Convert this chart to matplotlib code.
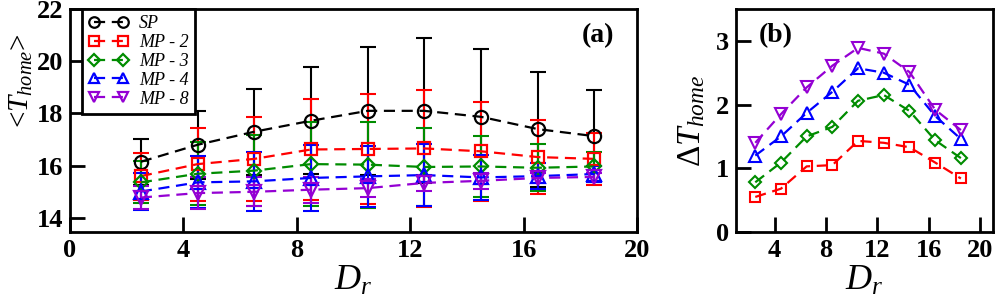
import matplotlib
matplotlib.use("Agg")
import matplotlib.pyplot as plt

plt.rcParams['font.family'] = ['Liberation Serif', 'DejaVu Serif']
plt.rcParams['mathtext.fontset'] = 'custom'
plt.rcParams['mathtext.rm'] = 'Liberation Serif'
plt.rcParams['mathtext.it'] = 'Liberation Serif:italic'
plt.rcParams['mathtext.bf'] = 'Liberation Serif:bold'

# ---------------- data ----------------
dr = [2.5, 4.5, 6.5, 8.5, 10.5, 12.5, 14.5, 16.5, 18.5]
labels = ['SP', 'MP - 2', 'MP - 3', 'MP - 4', 'MP - 8']

t_sp = [16.15, 16.8, 17.3, 17.72, 18.1, 18.1, 17.87, 17.4, 17.13]
e_sp = [0.88, 1.3, 1.65, 2.05, 2.45, 2.78, 2.58, 2.2, 1.77]
t_mp2 = [15.6, 16.06, 16.26, 16.62, 16.64, 16.66, 16.55, 16.33, 16.26]
e_mp2 = [0.9, 1.4, 1.6, 1.95, 2.12, 2.25, 1.9, 1.42, 1.0]
t_mp3 = [15.36, 15.69, 15.81, 16.06, 16.04, 15.95, 15.97, 15.92, 15.97]
e_mp3 = [0.8, 1.2, 1.35, 1.6, 1.65, 1.5, 1.18, 0.9, 0.55]
t_mp4 = [15.01, 15.36, 15.4, 15.53, 15.59, 15.64, 15.55, 15.6, 15.68]
e_mp4 = [0.7, 1.0, 1.13, 1.25, 1.18, 1.2, 0.85, 0.5, 0.3]
t_mp8 = [14.78, 14.95, 15.0, 15.08, 15.14, 15.34, 15.42, 15.53, 15.57]
e_mp8 = [0.45, 0.6, 0.55, 0.5, 0.35, 0.3, 0.3, 0.2, 0.15]

d_mp2 = [0.55, 0.68, 1.03, 1.05, 1.43, 1.40, 1.33, 1.09, 0.84]
d_mp3 = [0.78, 1.09, 1.50, 1.65, 2.06, 2.15, 1.90, 1.44, 1.16]
d_mp4 = [1.20, 1.50, 1.87, 2.20, 2.57, 2.50, 2.31, 1.82, 1.46]
d_mp8 = [1.40, 1.85, 2.27, 2.61, 2.89, 2.80, 2.51, 1.92, 1.60]

colors = ['black', '#ff0000', '#008c00', '#0000ff', '#9400d3']
markers = ['o', 's', 'D', '^', 'v']
msizes_a = [9.5, 9, 7.5, 9.5, 9.5]
msizes_b = [7, 7.5, 6.5, 9, 9]

fig = plt.figure(figsize=(9.96, 3.0), dpi=100)
ax1 = fig.add_axes([70/996, 1-232/300, (637-70)/996, (232-9)/300])
ax2 = fig.add_axes([736/996, 1-232/300, (993-736)/996, (232-9)/300])

tick_fs = 19
lab_fs = 26

# ---------- panel (a) ----------
series_a = [(t_sp, e_sp), (t_mp2, e_mp2), (t_mp3, e_mp3), (t_mp4, e_mp4), (t_mp8, e_mp8)]
handles = []
for (y, e), c, m, ms, lab in zip(series_a, colors, markers, msizes_a, labels):
    ax1.errorbar(dr, y, yerr=e, fmt='none', ecolor=c, elinewidth=1.5,
                 capsize=6, capthick=1.5, zorder=2)
    h, = ax1.plot(dr, y, linestyle=(0, (5, 3)), color=c, lw=1.6, marker=m,
                  ms=ms, mfc='none', mec=c, mew=1.6, zorder=3, label=lab)
    handles.append(h)

ax1.set_xlim(0, 20)
ax1.set_ylim(13.46, 22)
ax1.set_xticks([0, 4, 8, 12, 16, 20])
ax1.set_yticks([14, 16, 18, 20, 22])
ax1.set_xlabel(r'$D_r$', fontsize=lab_fs, labelpad=2)
ax1.set_ylabel(r'<$T_{home}$>', fontsize=21)
ax1.yaxis.set_label_coords(-0.062, 0.68)
ax1.text(0.96, 0.935, '(a)', transform=ax1.transAxes, fontsize=20,
         fontweight='bold', ha='right', va='top')

leg = ax1.legend(handles=handles, loc='upper left', bbox_to_anchor=(0.021, 1.0),
                 borderaxespad=0, numpoints=2, handlelength=2.2, handletextpad=0.6,
                 markerscale=0.8, fancybox=False, framealpha=1, edgecolor='black',
                 prop={'family': 'Liberation Serif', 'style': 'italic', 'size': 13},
                 labelspacing=0.1, borderpad=0.35)
leg.get_frame().set_linewidth(2)

# ---------- panel (b) ----------
series_b = [d_mp2, d_mp3, d_mp4, d_mp8]
for y, c, m, ms in zip(series_b, colors[1:], markers[1:], msizes_b[1:]):
    ax2.plot(dr, y, linestyle=(0, (5, 3)), color=c, lw=1.6, marker=m,
             ms=ms, mfc='none', mec=c, mew=1.5)

ax2.set_xlim(1, 21)
ax2.set_ylim(0, 3.5)
ax2.set_xticks([4, 8, 12, 16, 20])
ax2.set_yticks([0, 1, 2, 3])
ax2.set_xlabel(r'$D_r$', fontsize=lab_fs, labelpad=2)
ax2.set_ylabel(r'$\Delta T_{home}$', fontsize=24, labelpad=6)
ax2.text(0.09, 0.935, '(b)', transform=ax2.transAxes, fontsize=20,
         fontweight='bold', ha='left', va='top')

for ax in (ax1, ax2):
    for sp in ax.spines.values():
        sp.set_linewidth(2)
    ax.tick_params(direction='in', length=11, width=2, top=False, right=False,
                   labelsize=tick_fs, pad=5)
    for t in ax.get_xticklabels() + ax.get_yticklabels():
        t.set_fontweight('bold')

fig.savefig('out.png', dpi=100)
